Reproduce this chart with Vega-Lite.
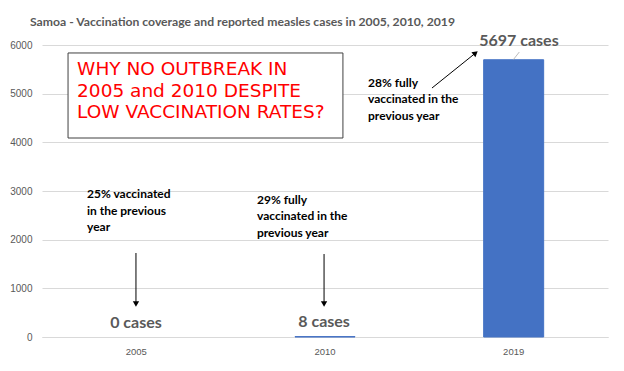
{
  "$schema": "https://vega.github.io/schema/vega-lite/v6.json",
  "width": 566,
  "height": 292,
  "autosize": {"type": "none"},
  "padding": {"left": 42, "top": 45, "right": 16, "bottom": 34},
  "background": "white",
  "title": {"text": "Samoa - Vaccination coverage and reported measles cases in 2005, 2010, 2019", "anchor": "start", "frame": "group", "dx": -12, "offset": -8.5, "baseline": "bottom", "font": "Lato", "fontSize": 12.2, "fontWeight": "bold", "color": "#595959"},
  "config": {"view": {"stroke": null}},
  "datasets": {
    "bars": [
      {"year": "2005", "cases": 0},
      {"year": "2010", "cases": 8},
      {"year": "2019", "cases": 5697}
    ],
    "box": [{"x": 0.138, "x2": 1.595, "y": 5836, "y2": 4089}],
    "question": [{"x": 0.186, "y": 5690, "text": ["WHY NO OUTBREAK IN", "2005 and 2010 DESPITE", "LOW VACCINATION RATES?"]}],
    "notes": [
      {"x": 1.728, "y": 5322, "text": ["28% fully", "vaccinated in the", "previous year"]},
      {"x": 0.2385, "y": 3040, "text": ["25% vaccinated", "in the previous", "year"]},
      {"x": 1.1396, "y": 2920, "text": ["29% fully", "vaccinated in the", "previous year"]}
    ],
    "caseLabels": [
      {"x": 0.498, "y": 288, "text": "0 cases"},
      {"x": 1.495, "y": 308, "text": "8 cases"},
      {"x": 2.528, "y": 6082, "text": "5697 cases"}
    ],
    "arrows": [
      {"x": 0.498, "x2": 0.498, "y": 1726, "y2": 678},
      {"x": 1.495, "x2": 1.495, "y": 1705, "y2": 678},
      {"x": 2.067, "x2": 2.298, "y": 5116, "y2": 5835}
    ],
    "heads": [
      {"x": 0.498, "y": 678, "angle": 180},
      {"x": 1.495, "y": 678, "angle": 180},
      {"x": 2.298, "y": 5835, "angle": 51}
    ],
    "leader": [{"x": 2.53, "x2": 2.498, "y": 5856, "y2": 5698}]
  },
  "layer": [
    {
      "data": {"name": "bars"},
      "mark": {"type": "bar", "color": "#4472C4", "stroke": "#4472C4", "width": 60},
      "encoding": {
        "x": {"field": "year", "type": "ordinal", "title": null,
              "axis": {"labelAngle": 0, "labelFont": "Liberation Sans", "labelFontSize": 9.5, "labelColor": "#595959", "labelPadding": 9, "ticks": false, "domain": true, "domainColor": "#D9D9D9"}},
        "y": {"field": "cases", "type": "quantitative", "title": null,
              "scale": {"domain": [0, 6000]},
              "axis": {"values": [0, 1000, 2000, 3000, 4000, 5000, 6000], "format": "d", "labelFont": "Liberation Sans", "labelFontSize": 10, "labelColor": "#595959", "labelPadding": 10, "ticks": false, "domain": false, "gridColor": "#D9D9D9", "gridWidth": 1}},
        "strokeWidth": {"condition": {"test": "datum.cases > 0", "value": 1}, "value": 0}
      }
    },
    {
      "data": {"name": "box"},
      "mark": {"type": "rect", "fill": "white", "stroke": "#404040", "strokeWidth": 1},
      "encoding": {
        "x": {"field": "x", "type": "quantitative", "scale": {"domain": [0, 3], "nice": false}, "axis": null},
        "x2": {"field": "x2"},
        "y": {"field": "y", "type": "quantitative"},
        "y2": {"field": "y2"}
      }
    },
    {
      "data": {"name": "question"},
      "mark": {"type": "text", "align": "left", "baseline": "top", "font": "DejaVu Sans", "fontSize": 18.5, "lineHeight": 21.5, "color": "#FF0000"},
      "encoding": {
        "x": {"field": "x", "type": "quantitative", "scale": {"domain": [0, 3], "nice": false}, "axis": null},
        "y": {"field": "y", "type": "quantitative"},
        "text": {"field": "text"}
      }
    },
    {
      "data": {"name": "notes"},
      "mark": {"type": "text", "align": "left", "baseline": "top", "font": "Lato", "fontSize": 12, "fontWeight": "bold", "lineHeight": 16.5, "color": "#000000"},
      "encoding": {
        "x": {"field": "x", "type": "quantitative", "scale": {"domain": [0, 3], "nice": false}, "axis": null},
        "y": {"field": "y", "type": "quantitative"},
        "text": {"field": "text"}
      }
    },
    {
      "data": {"name": "caseLabels"},
      "mark": {"type": "text", "align": "center", "baseline": "middle", "font": "Lato", "fontSize": 16, "fontWeight": "bold", "color": "#595959", "clip": false},
      "encoding": {
        "x": {"field": "x", "type": "quantitative", "scale": {"domain": [0, 3], "nice": false}, "axis": null},
        "y": {"field": "y", "type": "quantitative"},
        "text": {"field": "text"}
      }
    },
    {
      "data": {"name": "arrows"},
      "mark": {"type": "rule", "color": "#000000", "strokeWidth": 1},
      "encoding": {
        "x": {"field": "x", "type": "quantitative", "scale": {"domain": [0, 3], "nice": false}, "axis": null},
        "x2": {"field": "x2"},
        "y": {"field": "y", "type": "quantitative"},
        "y2": {"field": "y2"}
      }
    },
    {
      "data": {"name": "heads"},
      "mark": {"type": "point", "shape": "triangle-up", "filled": true, "color": "#000000", "size": 40, "opacity": 1},
      "encoding": {
        "x": {"field": "x", "type": "quantitative", "scale": {"domain": [0, 3], "nice": false}, "axis": null},
        "y": {"field": "y", "type": "quantitative"},
        "angle": {"field": "angle", "type": "quantitative", "scale": null}
      }
    },
    {
      "data": {"name": "leader"},
      "mark": {"type": "rule", "color": "#A6A6A6", "strokeWidth": 0.75},
      "encoding": {
        "x": {"field": "x", "type": "quantitative", "scale": {"domain": [0, 3], "nice": false}, "axis": null},
        "x2": {"field": "x2"},
        "y": {"field": "y", "type": "quantitative"},
        "y2": {"field": "y2"}
      }
    }
  ],
  "resolve": {"scale": {"x": "independent"}}
}
